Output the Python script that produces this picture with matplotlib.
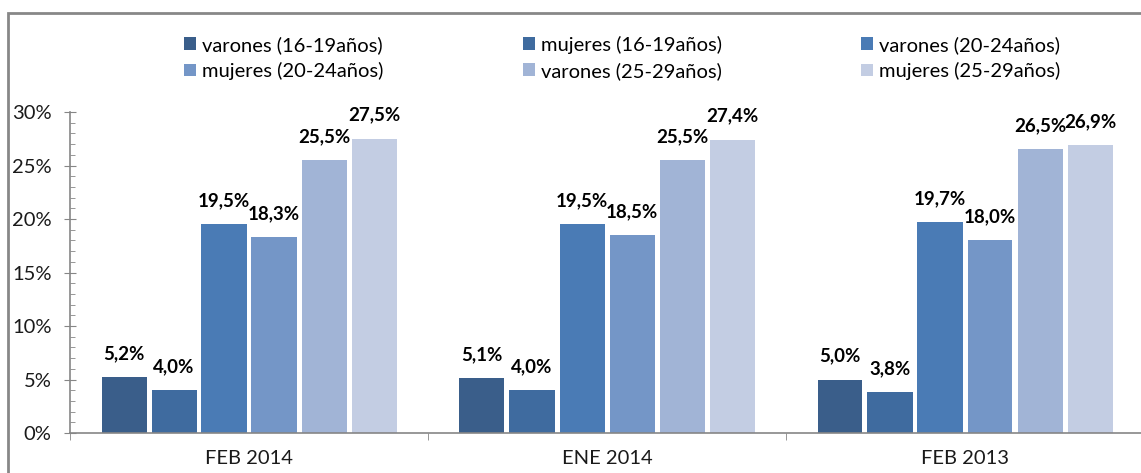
import numpy as np
import matplotlib.pyplot as plt
from matplotlib.patches import Rectangle
from matplotlib.ticker import MultipleLocator, FixedLocator

plt.rcParams['font.family'] = ['Lato', 'DejaVu Sans']

# data (percent)
periodos = ['FEB 2014', 'ENE 2014', 'FEB 2013']
series = ['varones (16-19años)', 'mujeres (16-19años)', 'varones (20-24años)',
          'mujeres (20-24años)', 'varones (25-29años)', 'mujeres (25-29años)']
v_16_19 = [5.2, 5.1, 5.0]
m_16_19 = [4.0, 4.0, 3.8]
v_20_24 = [19.5, 19.5, 19.7]
m_20_24 = [18.3, 18.5, 18.0]
v_25_29 = [25.5, 25.5, 26.5]
m_25_29 = [27.5, 27.4, 26.9]
colores = ['#3A5E8A', '#3F6B9F', '#4A7BB5', '#7496C7', '#A1B4D6', '#C3CDE3']

valores = [v_16_19, m_16_19, v_20_24, m_20_24, v_25_29, m_25_29]

fig = plt.figure(figsize=(11.41, 4.73), dpi=100)
W, H = 1141, 473

# chart area border (cropped at right and bottom like the reference)
fig.patches.append(Rectangle((8 / W, -0.1), 1.2, (473 - 13) / H + 0.1,
                             transform=fig.transFigure, fill=False,
                             edgecolor='#878787', linewidth=2))

ax = fig.add_axes([70 / W, 40 / H, 1074 / W, 321 / H])

slot = 50 / 358
ancho = 45 / 358
centros = np.arange(len(periodos)) + 0.5
handles = []
for j, (nombre, vals, col) in enumerate(zip(series, valores, colores)):
    xs = centros + (j - 2.5) * slot
    b = ax.bar(xs, vals, width=ancho, color=col, label=nombre, zorder=2)
    handles.append(b)
    for x, v in zip(xs, vals):
        ax.annotate(f'{v:.1f}%'.replace('.', ','), (x, v), xytext=(0, 11),
                    textcoords='offset points', ha='center', va='bottom',
                    fontsize=13.5, fontweight='bold', color='black')

ax.set_xlim(0, 3)
ax.set_ylim(0, 30)
ax.yaxis.set_major_locator(MultipleLocator(5))
ax.yaxis.set_minor_locator(MultipleLocator(1))
ax.set_yticklabels([f'{int(t)}%' for t in ax.get_yticks()])
ax.set_xticks(centros)
ax.set_xticklabels(periodos)
ax.xaxis.set_minor_locator(FixedLocator([0, 1, 2, 3]))

gris = '#868686'
for s in ['top', 'right']:
    ax.spines[s].set_visible(False)
for s in ['left', 'bottom']:
    ax.spines[s].set_color(gris)
    ax.spines[s].set_linewidth(1.2)

ax.tick_params(axis='y', which='major', direction='inout', length=8.6,
               color=gris, labelsize=14.5, pad=9, labelcolor='#1a1a1a')
ax.tick_params(axis='y', which='minor', direction='in', length=3.6, color=gris)
ax.tick_params(axis='x', which='major', length=0, labelsize=14.5, pad=12,
               labelcolor='#1a1a1a')
ax.tick_params(axis='x', which='minor', direction='out', length=5, color=gris)

# legend filled row by row as in the reference
orden = [0, 3, 1, 4, 2, 5]
fig.legend([handles[i] for i in orden], [series[i] for i in orden],
           ncol=3, loc='center', bbox_to_anchor=(622 / W, 1 - 58 / H),
           frameon=False, fontsize=14.5, handlelength=0.6, handleheight=0.6,
           handletextpad=0.3, columnspacing=6.9, labelspacing=0.4)

fig.savefig('out.png', dpi=100)
